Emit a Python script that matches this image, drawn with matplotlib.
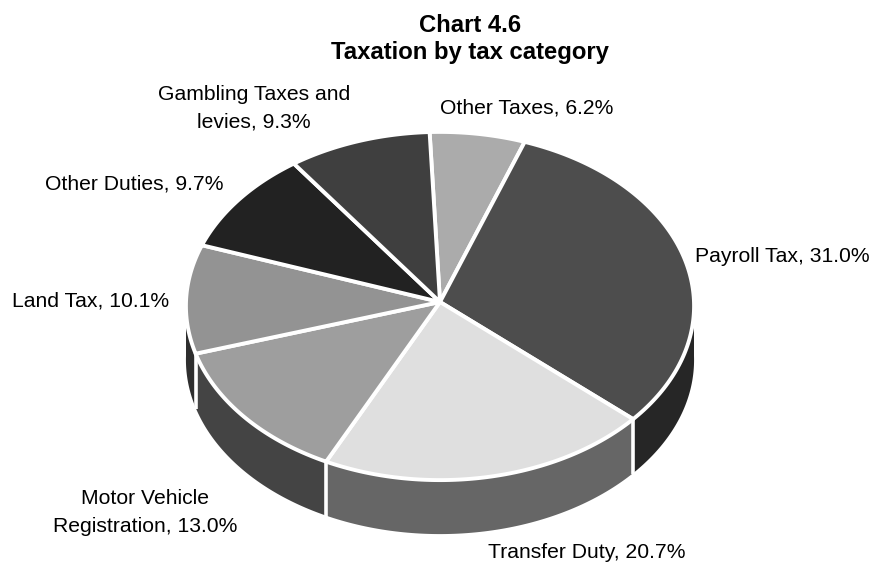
import numpy as np
import matplotlib as mpl
mpl.use('Agg')
import matplotlib.pyplot as plt
from matplotlib.patches import Polygon

plt.rcParams['font.family'] = ['Liberation Sans', 'DejaVu Sans']

# Clockwise from the top of the pie
categories = ['Other Taxes', 'Payroll Tax', 'Transfer Duty', 'Motor Vehicle Registration',
              'Land Tax', 'Other Duties', 'Gambling Taxes and levies']
shares = [6.2, 31.0, 20.7, 13.0, 10.1, 9.7, 9.3]
top_colors = ['#ababab', '#4d4d4d', '#dfdfdf', '#9e9e9e', '#939393', '#222222', '#3f3f3f']
side_colors = ['#808080', '#262626', '#666666', '#444444', '#2e2e2e', '#111111', '#222222']
labels = ['Other Taxes, 6.2%', 'Payroll Tax, 31.0%', 'Transfer Duty, 20.7%',
          'Motor Vehicle\nRegistration, 13.0%', 'Land Tax, 10.1%', 'Other Duties, 9.7%',
          'Gambling Taxes and\nlevies, 9.3%']
label_pos = [(527, 108), (782, 257), (587, 553), (145, 512), (91, 301), (134.5, 184), (254, 108)]

# Pie geometry in pixels
cx, cy = 440, 302
rx, ry = 254, 174
persp = 0.023
depth = 54
start = -2.4


def project(a):
    # a = degrees clockwise from the top
    t = np.radians(a)
    w = 1 + persp * np.cos(t)
    return cx + rx * np.sin(t) / w, cy - ry * np.cos(t) / w


fig = plt.figure(figsize=(8.76, 5.63), dpi=100)
ax = fig.add_axes([0, 0, 1, 1])
ax.set_xlim(0, 876)
ax.set_ylim(563, 0)
ax.axis('off')

edges = start + np.cumsum([0] + shares) * 360.0 / sum(shares)

# Side wall: only the front half shows
for i in range(len(shares)):
    a0, a1 = max(edges[i], 90), min(edges[i + 1], 270)
    if a1 <= a0:
        continue
    aa = np.linspace(a0, a1, 80)
    x, y = project(aa)
    xy = np.r_[np.c_[x, y], np.c_[x[::-1], y[::-1] + depth]]
    ax.add_patch(Polygon(xy, closed=True, fc=side_colors[i], ec='none', zorder=1))

# White separators on the wall
for e in edges[:-1]:
    if 90 < e < 270:
        x, y = project(e)
        ax.plot([x, x], [y, y + depth + 1], color='white', lw=2.6, zorder=2, solid_capstyle='butt')

# Top face
for i in range(len(shares)):
    aa = np.linspace(edges[i], edges[i + 1], 120)
    x, y = project(aa)
    xy = np.r_[[[cx, cy]], np.c_[x, y]]
    ax.add_patch(Polygon(xy, closed=True, fc=top_colors[i], ec='white', lw=2.8,
                         joinstyle='round', zorder=3))

for lab, (lx, ly) in zip(labels, label_pos):
    ax.text(lx, ly, lab, fontsize=15.2, ha='center', va='center', linespacing=1.6,
            color='black', zorder=5)

ax.text(470, 39, 'Chart 4.6\nTaxation by tax category', fontsize=17.2, fontweight='bold',
        ha='center', va='center', linespacing=1.27)

plt.savefig('out.png', dpi=100)
